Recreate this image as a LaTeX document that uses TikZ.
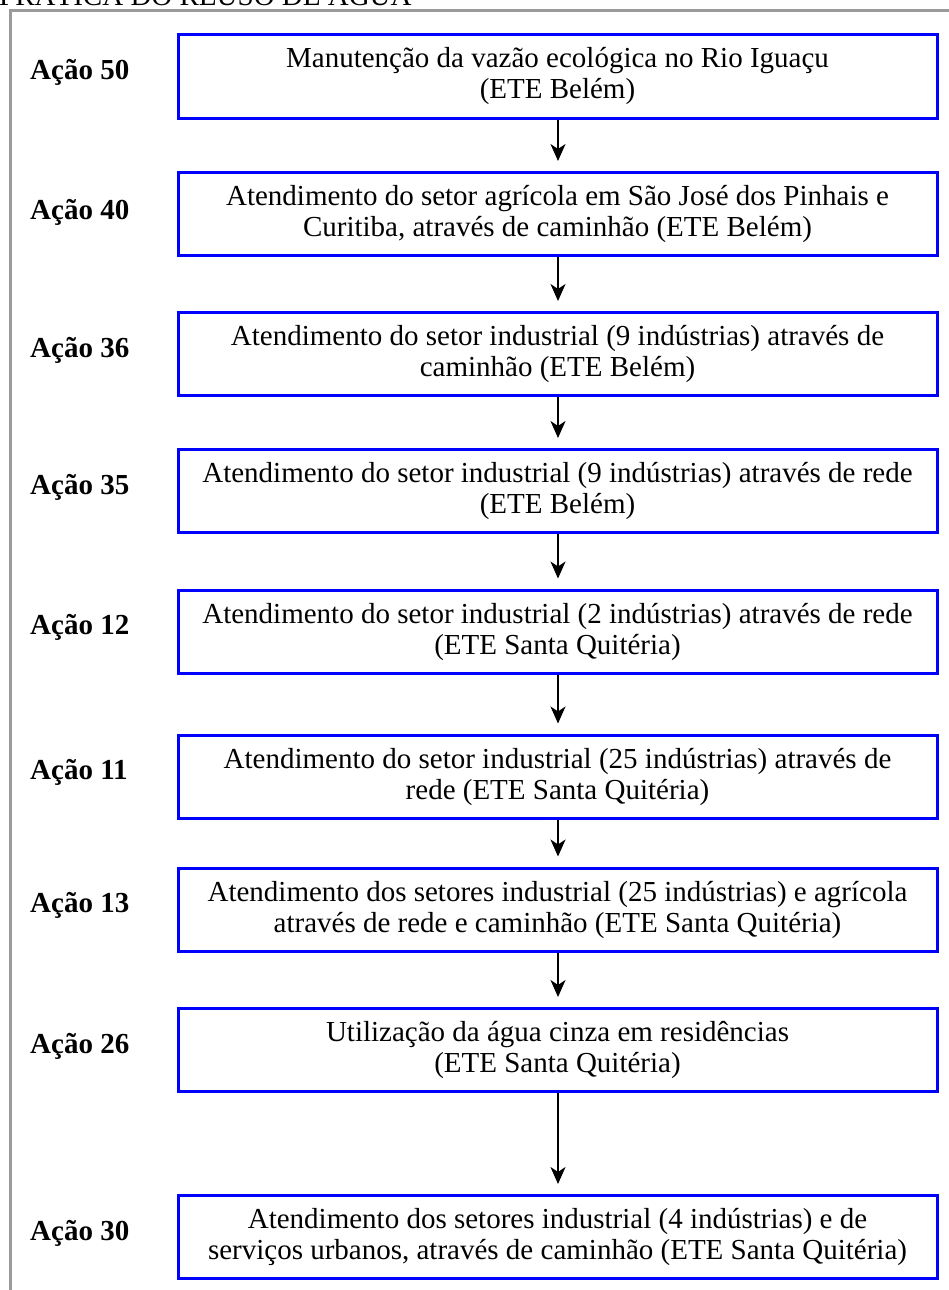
\documentclass[tikz,border=0pt]{standalone}
\usepackage{fontspec}
\setmainfont{Liberation Serif}
\usetikzlibrary{arrows.meta}
\definecolor{boxblue}{RGB}{0,0,255}
\definecolor{framegray}{RGB}{155,155,155}
\tikzset{
  actbox/.style={draw=boxblue, line width=3pt, minimum width=759pt, minimum height=83pt,
    inner sep=0pt, align=center, font=\fontsize{29}{31}\selectfont},
  actlabel/.style={anchor=west, inner sep=0pt, font=\fontsize{29}{31}\selectfont\bfseries},
  flow/.style={line width=1.8pt, -{Stealth[length=17pt,width=15pt,inset=5pt]}, shorten >=10pt}
}
\begin{document}
\begin{tikzpicture}[x=1pt,y=-1pt]
\useasboundingbox (0,0) rectangle (949,1290);
\node[anchor=base west, inner sep=0pt, font=\fontsize{29}{31}\selectfont] (title) at (-1,6) {PRÁTICA DO REÚSO DE ÁGUA};
\draw[framegray, line width=3pt] (10,1320) -- (10,11) -- (980,11);

\node[actbox] (b1) at (557.5,76.5) {Manutenção da vazão ecológica no Rio Iguaçu\\(ETE Belém)};
\node[actbox] (b2) at (557.5,214) {Atendimento do setor agrícola em São José dos Pinhais e\\Curitiba, através de caminhão (ETE Belém)};
\node[actbox] (b3) at (557.5,354) {Atendimento do setor industrial (9 indústrias) através de\\caminhão (ETE Belém)};
\node[actbox] (b4) at (557.5,491) {Atendimento do setor industrial (9 indústrias) através de rede\\(ETE Belém)};
\node[actbox] (b5) at (557.5,631.5) {Atendimento do setor industrial (2 indústrias) através de rede\\(ETE Santa Quitéria)};
\node[actbox] (b6) at (557.5,776.5) {Atendimento do setor industrial (25 indústrias) através de\\rede (ETE Santa Quitéria)};
\node[actbox] (b7) at (557.5,909.5) {Atendimento dos setores industrial (25 indústrias) e agrícola\\através de rede e caminhão (ETE Santa Quitéria)};
\node[actbox] (b8) at (557.5,1050) {Utilização da água cinza em residências\\(ETE Santa Quitéria)};
\node[actbox] (b9) at (557.5,1237) {Atendimento dos setores industrial (4 indústrias) e de\\serviços urbanos, através de caminhão (ETE Santa Quitéria)};

\node[actlabel] (l1) at (30,72) {Ação 50};
\node[actlabel] (l2) at (30,212) {Ação 40};
\node[actlabel] (l3) at (30,350) {Ação 36};
\node[actlabel] (l4) at (30,487) {Ação 35};
\node[actlabel] (l5) at (30,627) {Ação 12};
\node[actlabel] (l6) at (30,772) {Ação 11};
\node[actlabel] (l7) at (30,905) {Ação 13};
\node[actlabel] (l8) at (30,1046) {Ação 26};
\node[actlabel] (l9) at (30,1233) {Ação 30};

\foreach \a/\b in {b1/b2,b2/b3,b3/b4,b4/b5,b5/b6,b6/b7,b7/b8,b8/b9}
  \draw[flow] (\a.south -| 558,0) -- (\b.north -| 558,0);
\end{tikzpicture}
\end{document}
